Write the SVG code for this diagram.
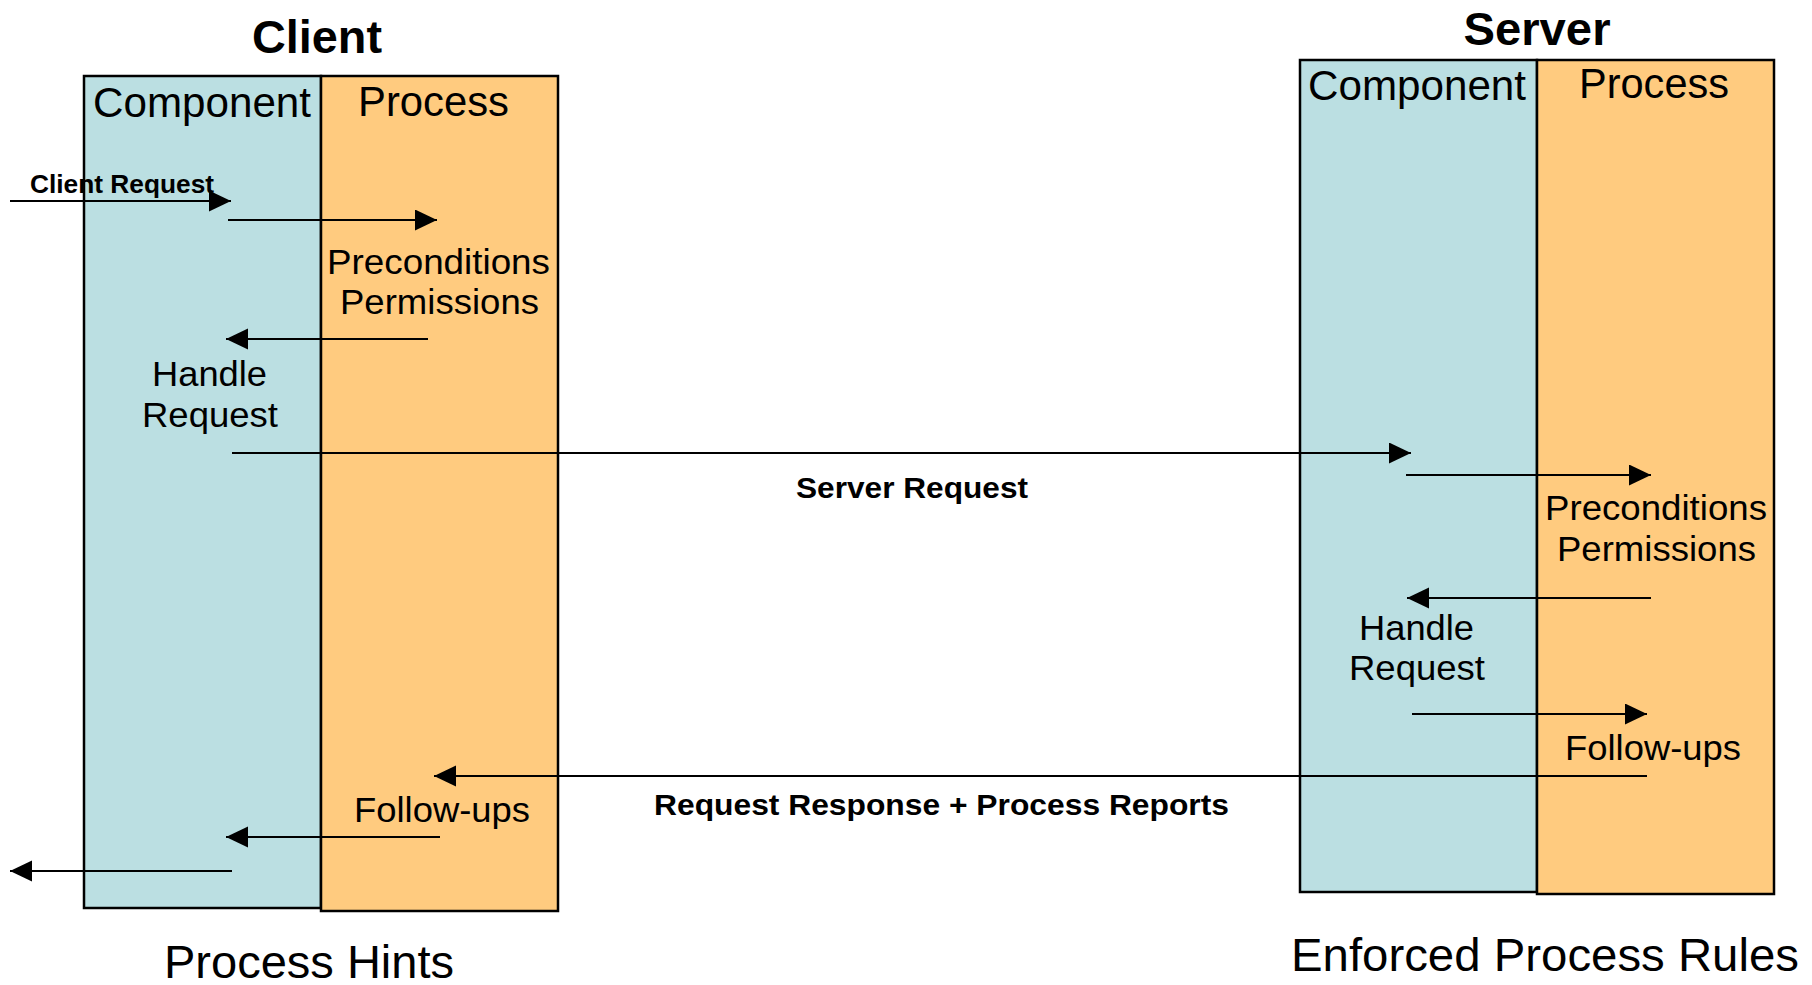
<svg xmlns="http://www.w3.org/2000/svg" width="1812" height="985" viewBox="0 0 1812 985">
<style>
.comp{fill:#BBDFE2;stroke:#000;stroke-width:2.5}
.proc{fill:#FFCB7F;stroke:#000;stroke-width:2.5}
.t{font-family:"Liberation Sans",Arial,sans-serif;fill:#000}
.b{font-weight:bold}
.c{stroke:#000;stroke-width:2.2;fill:none;marker-end:url(#ah)}
</style>
<defs>
<marker id="ah" markerUnits="userSpaceOnUse" markerWidth="23" markerHeight="22" refX="22" refY="10.5" orient="auto">
<path d="M0,0 L22,10.5 L0,21 Z" fill="#000"/>
</marker>
</defs>
<rect width="1812" height="985" fill="#fff"/>
<g id="client">
<rect class="comp" x="84" y="76" width="237" height="832"/>
<rect class="proc" x="321" y="76" width="237" height="835"/>
<text class="t b" x="317" y="53" font-size="46" text-anchor="middle" textLength="130" lengthAdjust="spacingAndGlyphs">Client</text>
<text class="t" x="93" y="117" font-size="43" textLength="218" lengthAdjust="spacingAndGlyphs">Component</text>
<text class="t" x="358" y="116" font-size="42" textLength="151" lengthAdjust="spacingAndGlyphs">Process</text>
</g>
<g id="server">
<rect class="comp" x="1300" y="60" width="237" height="832"/>
<rect class="proc" x="1537" y="60" width="237" height="834"/>
<text class="t b" x="1537" y="45" font-size="46" text-anchor="middle" textLength="147" lengthAdjust="spacingAndGlyphs">Server</text>
<text class="t" x="1308" y="100" font-size="43" textLength="218" lengthAdjust="spacingAndGlyphs">Component</text>
<text class="t" x="1579" y="98" font-size="42" textLength="150" lengthAdjust="spacingAndGlyphs">Process</text>
</g>
<g id="connectors">
<line class="c" x1="10" y1="201" x2="231" y2="201"/>
<line class="c" x1="228" y1="220" x2="437" y2="220"/>
<line class="c" x1="428" y1="339" x2="226" y2="339"/>
<line class="c" x1="232" y1="453" x2="1411" y2="453"/>
<line class="c" x1="1406" y1="475" x2="1651" y2="475"/>
<line class="c" x1="1651" y1="598" x2="1407" y2="598"/>
<line class="c" x1="1412" y1="714" x2="1647" y2="714"/>
<line class="c" x1="1647" y1="776" x2="434" y2="776"/>
<line class="c" x1="440" y1="837" x2="226" y2="837"/>
<line class="c" x1="232" y1="871" x2="10" y2="871"/>
</g>
<g id="client-labels">
<text class="t b" x="30" y="193" font-size="26" textLength="184" lengthAdjust="spacingAndGlyphs">Client Request</text>
<text class="t" x="327" y="274" font-size="35" textLength="223" lengthAdjust="spacingAndGlyphs">Preconditions</text>
<text class="t" x="340" y="314" font-size="35" textLength="199" lengthAdjust="spacingAndGlyphs">Permissions</text>
<text class="t" x="152" y="386" font-size="35" textLength="115" lengthAdjust="spacingAndGlyphs">Handle</text>
<text class="t" x="142" y="427" font-size="35" textLength="136" lengthAdjust="spacingAndGlyphs">Request</text>
<text class="t" x="354" y="822" font-size="35" textLength="176" lengthAdjust="spacingAndGlyphs">Follow-ups</text>
<text class="t" x="164" y="978" font-size="46" textLength="290" lengthAdjust="spacingAndGlyphs">Process Hints</text>
</g>
<g id="server-labels">
<text class="t" x="1545" y="520" font-size="35" textLength="222" lengthAdjust="spacingAndGlyphs">Preconditions</text>
<text class="t" x="1557" y="561" font-size="35" textLength="199" lengthAdjust="spacingAndGlyphs">Permissions</text>
<text class="t" x="1359" y="640" font-size="35" textLength="115" lengthAdjust="spacingAndGlyphs">Handle</text>
<text class="t" x="1349" y="680" font-size="35" textLength="136" lengthAdjust="spacingAndGlyphs">Request</text>
<text class="t" x="1565" y="760" font-size="35" textLength="176" lengthAdjust="spacingAndGlyphs">Follow-ups</text>
<text class="t" x="1291" y="971" font-size="46" textLength="508" lengthAdjust="spacingAndGlyphs">Enforced Process Rules</text>
</g>
<g id="message-labels">
<text class="t b" x="796" y="498" font-size="30" textLength="232" lengthAdjust="spacingAndGlyphs">Server Request</text>
<text class="t b" x="654" y="815" font-size="30" textLength="575" lengthAdjust="spacingAndGlyphs">Request Response + Process Reports</text>
</g>
</svg>
